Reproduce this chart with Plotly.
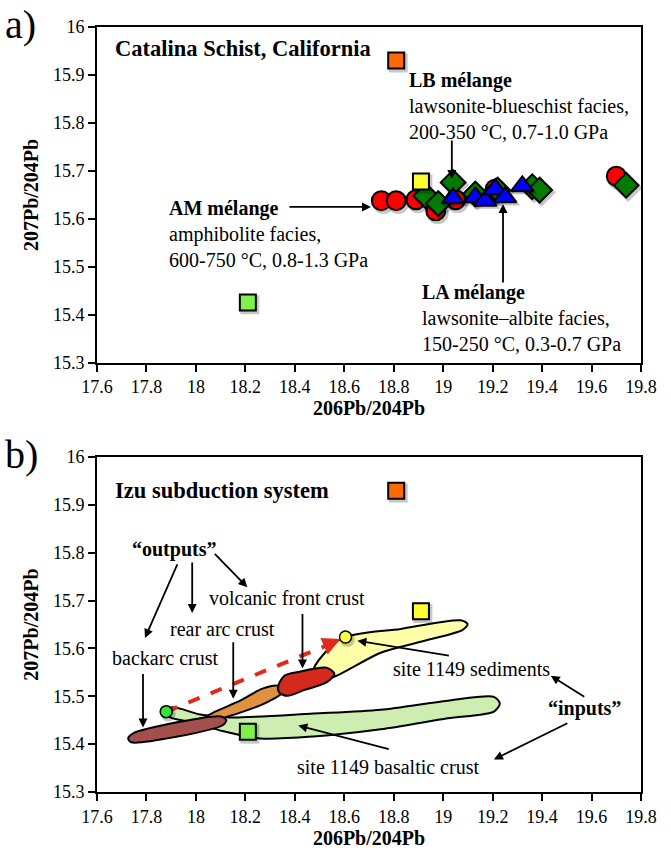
import plotly.graph_objects as go

# ---------------- data ----------------
# Panel a: Catalina Schist, California
am_x = [18.75, 18.81, 18.89, 18.97, 19.05, 19.21, 19.70]
am_y = [15.638, 15.638, 15.640, 15.617, 15.640, 15.662, 15.689]

lb_x = [18.93, 18.98, 19.04, 19.13, 19.22, 19.36, 19.39, 19.74]
lb_y = [15.648, 15.632, 15.676, 15.652, 15.660, 15.667, 15.660, 15.670]

la_x = [19.04, 19.13, 19.17, 19.21, 19.25, 19.32]
la_y = [15.643, 15.645, 15.638, 15.662, 15.645, 15.668]

# reference end-members (squares), shown in both panels
em_x = [18.81, 18.91, 18.21]
em_y = [15.93, 15.678, 15.426]
em_colors = ["#ff6a00", "#ffff33", "#80f04c"]

# Panel b: Izu subduction system fields (outline vertices)
basalt_x = [17.876, 17.904, 18.017, 18.139, 18.475, 18.747, 19.018, 19.205, 19.229,
            19.205, 19.018, 18.747, 18.475, 18.260, 18.111, 17.989, 17.896, 17.876]
basalt_y = [15.466, 15.477, 15.462, 15.456, 15.464, 15.472, 15.491, 15.499, 15.485,
            15.468, 15.454, 15.431, 15.416, 15.412, 15.427, 15.445, 15.456, 15.466]

sed_x = [18.475, 18.585, 18.828, 19.071, 19.099, 19.079, 18.909, 18.747, 18.585, 18.524, 18.475]
sed_y = [15.553, 15.620, 15.641, 15.659, 15.651, 15.639, 15.614, 15.591, 15.547, 15.535, 15.553]

reararc_x = [18.025, 18.078, 18.179, 18.269, 18.333, 18.350, 18.293, 18.179, 18.066, 18.025]
reararc_y = [15.452, 15.468, 15.491, 15.516, 15.522, 15.508, 15.489, 15.466, 15.450, 15.452]

vf_x = [18.333, 18.358, 18.414, 18.528, 18.560, 18.528, 18.443, 18.370, 18.337, 18.333]
vf_y = [15.522, 15.543, 15.551, 15.560, 15.547, 15.529, 15.514, 15.501, 15.508, 15.522]

backarc_x = [17.726, 17.746, 18.102, 18.123, 18.106, 17.738, 17.726]
backarc_y = [15.412, 15.4226, 15.458, 15.450, 15.439, 15.404, 15.412]

# mixing end points (backarc source and sediment average)
mix_x = [17.88, 18.605]
mix_y = [15.468, 15.624]

# axis ticks
x_ticks = [17.6, 17.8, 18.0, 18.2, 18.4, 18.6, 18.8, 19.0, 19.2, 19.4, 19.6, 19.8]
x_tick_text = ["17.6", "17.8", "18", "18.2", "18.4", "18.6", "18.8", "19", "19.2", "19.4", "19.6", "19.8"]
y_ticks = [15.3, 15.4, 15.5, 15.6, 15.7, 15.8, 15.9, 16.0]
y_tick_text = ["15.3", "15.4", "15.5", "15.6", "15.7", "15.8", "15.9", "16"]

SERIF = "Liberation Serif, Times New Roman, Times, DejaVu Serif, serif"
OUT = dict(color="black", width=2)
SHADOW = "rgba(0,0,0,0.22)"
# drop-shadow offset of roughly 2 px right / 2.5 px down, in data units
SDX, SDY = 0.008, -0.005

fig = go.Figure()


def points(xs, ys, symbol, size, color, xa, ya, line=OUT):
    # soft shadow underneath, then the marker itself
    fig.add_trace(go.Scatter(x=[v + SDX for v in xs], y=[v + SDY for v in ys], mode="markers",
                             xaxis=xa, yaxis=ya, hoverinfo="skip",
                             marker=dict(symbol=symbol, size=size + 3, color=SHADOW,
                                         line=dict(width=0))))
    fig.add_trace(go.Scatter(x=xs, y=ys, mode="markers", xaxis=xa, yaxis=ya,
                             marker=dict(symbol=symbol, size=size, color=color, line=line)))


# ---------------- panel a ----------------
points(am_x, am_y, "circle", 19, "#ff0000", "x", "y")
points(lb_x, lb_y, "diamond", 19, "#007a00", "x", "y")
points(la_x, la_y, "triangle-up", 20, "#0000ff", "x", "y")
points(em_x, em_y, "square", 16, em_colors, "x", "y")

# ---------------- panel b ----------------
def field(xs, ys, color):
    fig.add_trace(go.Scatter(x=xs, y=ys, mode="lines", xaxis="x2", yaxis="y2",
                             fill="toself", fillcolor=color,
                             line=dict(color="black", width=2, shape="spline", smoothing=0.8)))

field(basalt_x, basalt_y, "#cdeeb0")
field(sed_x, sed_y, "#ffffa8")
field(reararc_x, reararc_y, "#e0913f")
field(vf_x, vf_y, "#d42a1c")
field(backarc_x, backarc_y, "#a34f4c")

# dashed mixing line
fig.add_trace(go.Scatter(x=[mix_x[0], 18.555], y=[mix_y[0], 15.612], mode="lines",
                         xaxis="x2", yaxis="y2",
                         line=dict(color="#e02a1a", width=4, dash="dash")))

points(em_x, em_y, "square", 16, em_colors, "x2", "y2")
points(mix_x, mix_y, "circle", 12, ["#33e633", "#ffff40"], "x2", "y2",
       line=dict(color="black", width=1.5))

# ---------------- annotations ----------------
ann = []
BODY = 20
HEAD = 22.5


def text(x, y, s, xref="x", yref="y", size=BODY, yanchor="middle"):
    ann.append(dict(x=x, y=y, xref=xref, yref=yref, text=s, showarrow=False,
                    xanchor="left", yanchor=yanchor, align="left",
                    font=dict(family=SERIF, size=size, color="black")))


def arrow(x, y, ax, ay, xref="x", yref="y"):
    ann.append(dict(x=x, y=y, xref=xref, yref=yref, ax=ax, ay=ay, text="",
                    showarrow=True, arrowhead=2, arrowsize=1, arrowwidth=1.8,
                    arrowcolor="black"))


# panel labels
for lbl, py in (("a)", 1.003), ("b)", 0.4416)):
    ann.append(dict(x=-0.172, y=py, xref="paper", yref="paper", text=lbl, showarrow=False,
                    xanchor="left", yanchor="middle",
                    font=dict(family=SERIF, size=40, color="black")))

text(17.665, 15.956, "<b>Catalina Schist, California</b>", size=HEAD)
text(18.854, 15.917, "<b>LB mélange</b><br>lawsonite-blueschist facies,<br>200-350 °C, 0.7-1.0 GPa",
     yanchor="top")
arrow(19.035, 15.683, 0, -40)
text(17.883, 15.650, "<b>AM mélange</b><br>amphibolite facies,<br>600-750 °C, 0.8-1.3 GPa",
     yanchor="top")
arrow(18.708, 15.625, -83, 0)
text(18.906, 15.474, "<b>LA mélange</b><br>lawsonite–albite facies,<br>150-250 °C, 0.3-0.7 GPa",
     yanchor="top")
arrow(19.242, 15.631, 0, 80)

text(17.665, 15.931, "<b>Izu subduction system</b>", "x2", "y2", size=HEAD)
text(17.734, 15.807, "<b>“outputs”</b>", "x2", "y2")
arrow(17.794, 15.622, 33, -75, "x2", "y2")
arrow(17.985, 15.674, 0, -52, "x2", "y2")
arrow(18.208, 15.728, -34, -35, "x2", "y2")
text(18.046, 15.705, "volcanic front crust", "x2", "y2")
text(17.888, 15.641, "rear arc crust", "x2", "y2")
text(17.653, 15.580, "backarc crust", "x2", "y2")
arrow(17.786, 15.435, 0, -55, "x2", "y2")
arrow(18.151, 15.495, 0, -58, "x2", "y2")
arrow(18.431, 15.558, 0, -56, "x2", "y2")
text(18.787, 15.558, "site 1149 sediments", "x2", "y2")
arrow(18.653, 15.616, 93, 15, "x2", "y2")
text(19.415, 15.474, "<b>“inputs”</b>", "x2", "y2")
arrow(19.435, 15.543, 35, 22, "x2", "y2")
arrow(19.205, 15.368, 75, -37, "x2", "y2")
text(18.400, 15.352, "site 1149 basaltic crust", "x2", "y2")
arrow(18.414, 15.439, 92, 24, "x2", "y2")

# arrowhead of the dashed mixing line
ann.append(dict(x=18.585, y=15.620, xref="x2", yref="y2", ax=-16, ay=7, text="",
                showarrow=True, arrowhead=2, arrowsize=0.9, arrowwidth=4,
                arrowcolor="#e02a1a"))


# ---------------- axes ----------------
def xax(anchor):
    return dict(anchor=anchor, domain=[0, 1], range=[17.6, 19.8],
                tickmode="array", tickvals=x_ticks, ticktext=x_tick_text,
                ticks="outside", ticklen=7, tickwidth=2, tickcolor="black",
                showline=True, linewidth=2, linecolor="black", mirror=True,
                showgrid=False, zeroline=False,
                tickfont=dict(family=SERIF, size=18, color="black"),
                title=dict(text="<b>206Pb/204Pb</b>", standoff=5,
                           font=dict(family=SERIF, size=20, color="black")))


def yax(anchor, dom):
    return dict(anchor=anchor, domain=dom, range=[15.3, 16.0],
                tickmode="array", tickvals=y_ticks, ticktext=y_tick_text,
                ticks="outside", ticklen=7, tickwidth=2, tickcolor="black",
                showline=True, linewidth=2, linecolor="black", mirror=True,
                showgrid=False, zeroline=False,
                tickfont=dict(family=SERIF, size=18, color="black"),
                title=dict(text="<b>207Pb/204Pb</b>", standoff=9,
                           font=dict(family=SERIF, size=20, color="black")))


fig.update_layout(
    width=671, height=858,
    margin=dict(l=97, r=30, t=27, b=61),
    paper_bgcolor="white", plot_bgcolor="white",
    showlegend=False,
    font=dict(family=SERIF),
    xaxis=xax("y"), yaxis=yax("x", [0.561, 1.0]),
    xaxis2=xax("y2"), yaxis2=yax("x2", [0.0, 0.4377]),
    annotations=ann,
)

fig.write_html("out.html")
